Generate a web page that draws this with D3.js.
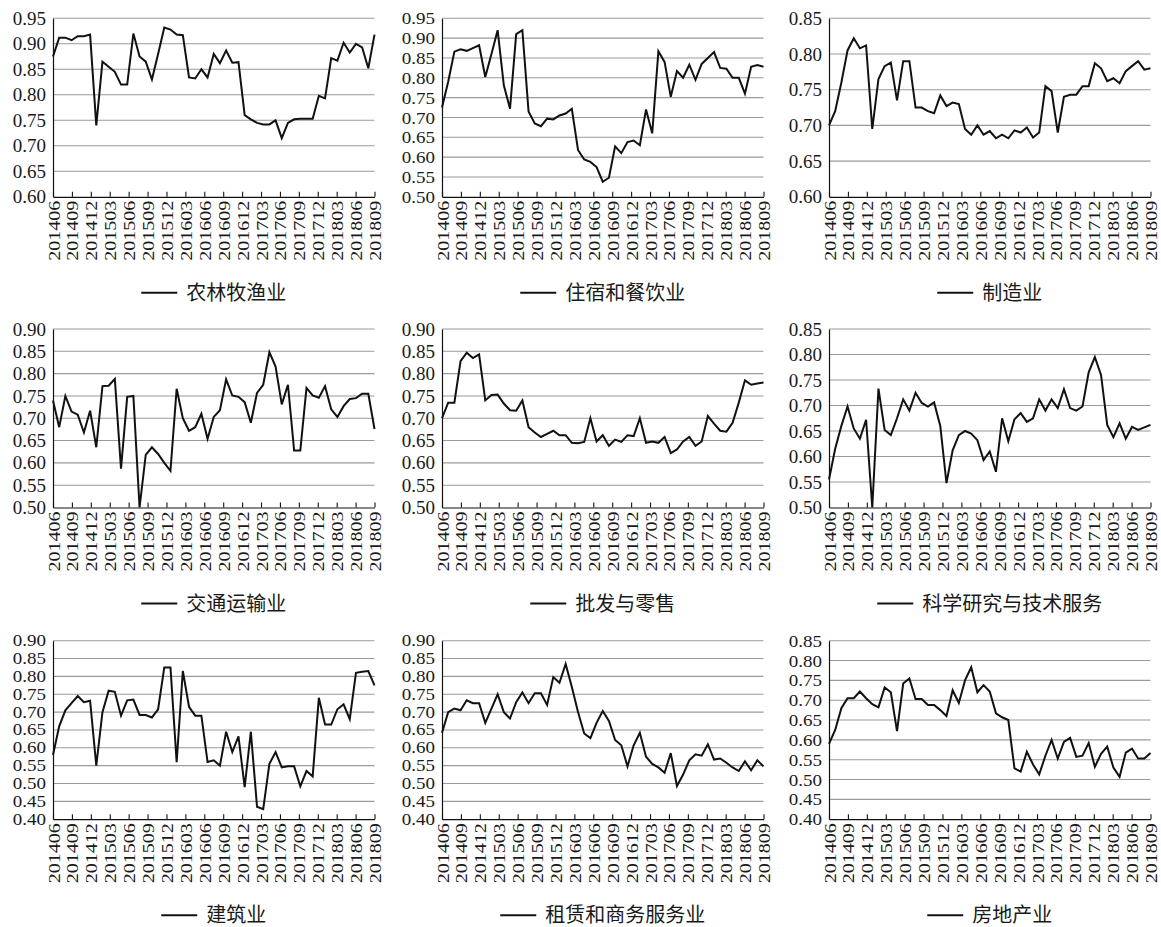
<!DOCTYPE html>
<html>
<head>
<meta charset="utf-8">
<script src="https://cdn.jsdelivr.net/npm/d3@7"></script>
<style>
  html, body { margin: 0; padding: 0; background: #fff; }
  svg { display: block; }
</style>
</head>
<body>
<svg id="chart" width="1161" height="927"></svg>
<script>
// Month labels shown on every x axis (one every three months)
const tickLabels = ["201406","201409","201412","201503","201506","201509","201512","201603","201606",
                    "201609","201612","201703","201706","201709","201712","201803","201806","201809"];

// Industry names (legend text), in panel order
const industries = ["农林牧渔业","住宿和餐饮业","制造业",
                    "交通运输业","批发与零售","科学研究与技术服务",
                    "建筑业","租赁和商务服务业","房地产业"];

// Y-axis ranges per panel
const yMin = [0.60, 0.50, 0.60, 0.50, 0.50, 0.50, 0.40, 0.40, 0.40];
const yMax = [0.95, 0.95, 0.85, 0.90, 0.90, 0.85, 0.90, 0.90, 0.85];

// Monthly series
const agriculture = [0.875,0.912,0.912,0.907,0.915,0.915,0.918,0.74,0.865,0.855,0.845,0.82,0.82,0.92,0.875,0.865,0.83,0.88,0.932,0.928,
  0.918,0.917,0.834,0.832,0.85,0.834,0.88,0.862,0.887,0.863,0.864,0.76,0.752,0.745,0.742,0.742,0.75,0.715,0.745,0.752,
  0.753,0.753,0.753,0.798,0.793,0.872,0.867,0.902,0.883,0.90,0.893,0.852,0.918];
const hospitality = [0.725,0.79,0.866,0.872,0.868,0.875,0.882,0.802,0.86,0.92,0.781,0.722,0.91,0.92,0.715,0.685,0.678,0.697,0.695,0.705,
  0.71,0.722,0.618,0.594,0.588,0.575,0.538,0.548,0.627,0.61,0.638,0.642,0.63,0.72,0.66,0.867,0.84,0.752,0.817,0.80,
  0.833,0.795,0.835,0.85,0.865,0.825,0.823,0.80,0.80,0.76,0.828,0.832,0.828];
const manufacturing = [0.70,0.72,0.76,0.805,0.822,0.808,0.812,0.695,0.765,0.783,0.788,0.735,0.79,0.79,0.725,0.725,0.72,0.717,0.742,0.727,
  0.732,0.73,0.695,0.687,0.70,0.687,0.692,0.682,0.687,0.682,0.693,0.69,0.697,0.683,0.69,0.755,0.748,0.69,0.74,0.743,
  0.743,0.755,0.755,0.787,0.78,0.762,0.766,0.759,0.776,0.783,0.79,0.778,0.78];
const transport = [0.74,0.68,0.75,0.715,0.708,0.668,0.717,0.635,0.772,0.773,0.788,0.587,0.748,0.75,0.50,0.618,0.635,0.62,0.60,0.582,
  0.766,0.70,0.672,0.68,0.71,0.654,0.703,0.718,0.787,0.751,0.748,0.736,0.69,0.757,0.775,0.848,0.816,0.731,0.775,0.628,
  0.628,0.768,0.751,0.746,0.772,0.72,0.703,0.727,0.743,0.745,0.755,0.755,0.676];
const retail = [0.70,0.735,0.735,0.828,0.847,0.835,0.843,0.74,0.752,0.753,0.733,0.718,0.717,0.74,0.68,0.668,0.658,0.665,0.672,0.662,
  0.662,0.645,0.644,0.647,0.70,0.648,0.662,0.638,0.652,0.647,0.662,0.66,0.70,0.645,0.648,0.645,0.658,0.622,0.63,0.648,
  0.658,0.638,0.648,0.705,0.688,0.672,0.67,0.69,0.735,0.785,0.775,0.778,0.78];
const research = [0.555,0.615,0.66,0.698,0.655,0.635,0.672,0.50,0.733,0.652,0.642,0.675,0.712,0.69,0.725,0.705,0.698,0.706,0.66,0.548,
  0.612,0.642,0.65,0.645,0.632,0.593,0.61,0.57,0.675,0.63,0.673,0.685,0.668,0.675,0.712,0.69,0.712,0.695,0.732,0.695,
  0.69,0.698,0.765,0.795,0.76,0.662,0.638,0.665,0.635,0.658,0.652,0.657,0.662];
const construction = [0.58,0.66,0.705,0.725,0.745,0.728,0.732,0.55,0.70,0.76,0.757,0.69,0.733,0.735,0.692,0.692,0.685,0.708,0.825,0.825,
  0.56,0.815,0.715,0.69,0.69,0.56,0.565,0.55,0.645,0.588,0.632,0.49,0.645,0.435,0.428,0.555,0.588,0.545,0.548,0.548,
  0.492,0.535,0.52,0.74,0.665,0.665,0.708,0.722,0.68,0.81,0.813,0.815,0.775];
const leasing = [0.642,0.70,0.71,0.705,0.733,0.725,0.725,0.67,0.71,0.75,0.70,0.682,0.728,0.755,0.725,0.753,0.753,0.72,0.798,0.782,
  0.835,0.77,0.70,0.64,0.627,0.67,0.703,0.675,0.622,0.607,0.548,0.607,0.642,0.575,0.555,0.545,0.53,0.585,0.493,0.525,
  0.565,0.582,0.578,0.61,0.567,0.57,0.558,0.545,0.535,0.562,0.537,0.565,0.548];
const realEstate = [0.59,0.625,0.68,0.705,0.705,0.722,0.705,0.69,0.682,0.732,0.72,0.622,0.742,0.755,0.703,0.703,0.688,0.688,0.675,0.66,
  0.725,0.693,0.75,0.783,0.72,0.738,0.722,0.667,0.657,0.65,0.528,0.52,0.57,0.538,0.513,0.56,0.60,0.553,0.595,0.605,
  0.557,0.56,0.592,0.532,0.565,0.583,0.53,0.507,0.568,0.578,0.553,0.553,0.567];

const seriesList = [agriculture, hospitality, manufacturing, transport, retail, research, construction, leasing, realEstate];

// ---- layout ----
const colLeft = [53, 442, 829];
const rowTop = [18.3, 329, 640.7];
const plotW = 321.5;
const plotH = 178.5;
const serif = "'Liberation Serif', 'Times New Roman', serif";
const cjk = "'Noto Sans CJK SC', 'Noto Sans', sans-serif";
const lineHeightRatio = 1.11;   // font box height relative to font size

const svg = d3.select("#chart");
const fmt = d3.format(".2f");

// Shrinks a text's font so its box fits `room`, keeping the drawn length it had at `baseSize`.
function fitText(sel, baseSize, room) {
  const size = Math.min(baseSize, (room - 0.4) / lineHeightRatio);
  sel.each(function () {
    const t = d3.select(this).attr("font-size", baseSize);
    const w = this.getComputedTextLength();
    t.attr("font-size", size.toFixed(2));
    if (size < baseSize) t.attr("textLength", w.toFixed(2)).attr("lengthAdjust", "spacingAndGlyphs");
  });
}

seriesList.forEach((values, p) => {
  const col = p % 3, row = Math.floor(p / 3);
  const g = svg.append("g").attr("transform", `translate(${colLeft[col]},${rowTop[row]})`);

  const x = d3.scaleLinear().domain([0, values.length - 1]).range([0, plotW]);
  const xLab = d3.scalePoint().domain(tickLabels).range([0, plotW]);
  const y = d3.scaleLinear().domain([yMin[p], yMax[p]]).range([plotH, 0]);
  const nSteps = Math.round((yMax[p] - yMin[p]) / 0.05);
  const yTicks = d3.range(0, nSteps + 1).map(k => +(yMin[p] + k * 0.05).toFixed(2));

  // horizontal grid lines
  g.append("g").selectAll("line")
    .data(yTicks.slice(1))
    .join("line")
    .attr("x1", 0).attr("x2", plotW)
    .attr("y1", d => y(d)).attr("y2", d => y(d))
    .attr("stroke", "#9a9a9a").attr("stroke-width", 1.1);

  // y axis
  const yAxis = g.append("g")
    .call(d3.axisLeft(y).tickValues(yTicks).tickFormat(fmt).tickSize(0).tickPadding(7));
  yAxis.select(".domain").attr("stroke", "#111").attr("stroke-width", 1.2);
  const yText = yAxis.selectAll("text")
    .attr("font-family", serif).attr("fill", "#1a1a1a");
  fitText(yText, 19, plotH / nSteps);

  // x axis with rotated month labels
  const xAxis = g.append("g")
    .attr("transform", `translate(0,${plotH})`)
    .call(d3.axisBottom(xLab).tickSizeInner(-5).tickSizeOuter(0));
  xAxis.select(".domain").attr("stroke", "#111").attr("stroke-width", 1.2);
  xAxis.selectAll(".tick line").attr("stroke", "#111").attr("stroke-width", 1.1);
  const xText = xAxis.selectAll("text")
    .attr("font-family", serif).attr("fill", "#1a1a1a")
    .attr("transform", "rotate(-90)")
    .attr("text-anchor", "end")
    .attr("x", -4).attr("y", 0).attr("dy", "0.36em");
  fitText(xText, 20, xLab.step());

  // series line
  g.append("path")
    .datum(values)
    .attr("fill", "none")
    .attr("stroke", "#111")
    .attr("stroke-width", 2)
    .attr("stroke-linejoin", "miter")
    .attr("d", d3.line().x((d, i) => x(i)).y(d => y(d)));

  // legend under the panel
  const leg = g.append("g").attr("transform", `translate(0,${plotH + 96})`);
  const label = leg.append("text")
    .attr("font-family", cjk).attr("font-size", 20).attr("fill", "#1a1a1a")
    .attr("dy", "0.35em")
    .text(industries[p]);
  const tw = label.node().getComputedTextLength();
  const lineLen = 36, gap = 9;
  const start = plotW / 2 - (lineLen + gap + tw) / 2;
  leg.append("line")
    .attr("x1", start).attr("x2", start + lineLen)
    .attr("y1", 0).attr("y2", 0)
    .attr("stroke", "#111").attr("stroke-width", 2);
  label.attr("x", start + lineLen + gap);
});
</script>
</body>
</html>
